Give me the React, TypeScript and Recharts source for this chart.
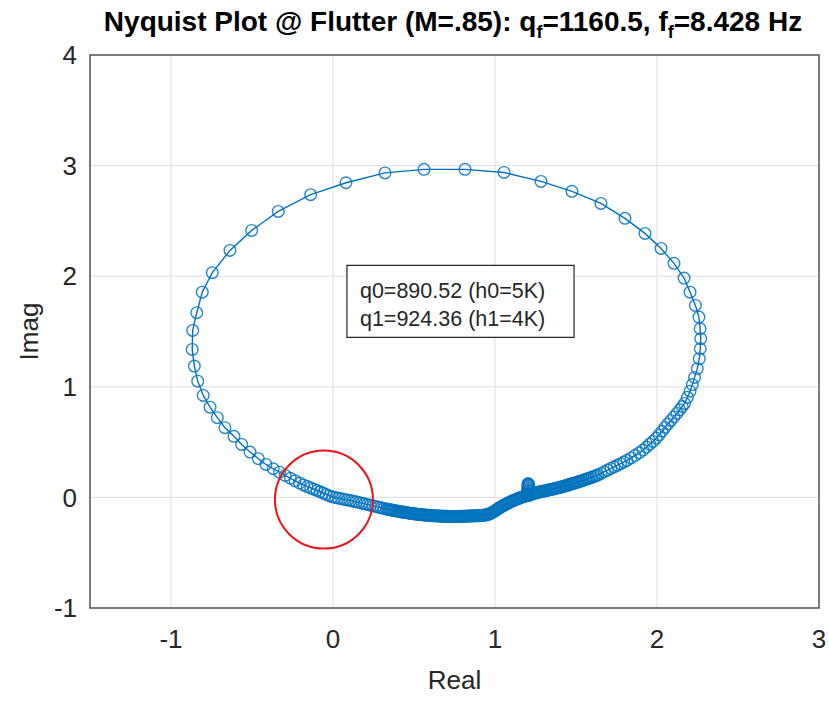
import {
  ScatterChart,
  Scatter,
  XAxis,
  YAxis,
  CartesianGrid,
  ReferenceArea,
  ReferenceDot,
} from "recharts"

const FONT = '"Liberation Sans", Arial, Helvetica, sans-serif'
const BLUE = "#0072BD"
const INK = "#262626"

const spike: [number, number][] = [
  [1.205, 0.125], [1.205, 0.12], [1.205, 0.115], [1.205, 0.11], [1.204, 0.1],
  [1.204, 0.09], [1.203, 0.08], [1.203, 0.07], [1.202, 0.06], [1.202, 0.05],
  [1.201, 0.04], [1.201, 0.03], [1.2, 0.02],
]

const lowerRight: [number, number][] = [
  [1.208, 0.018], [1.216, 0.023], [1.224, 0.028], [1.232, 0.033], [1.24, 0.037],
  [1.248, 0.04], [1.256, 0.043], [1.264, 0.046], [1.272, 0.048], [1.28, 0.051],
  [1.288, 0.053], [1.296, 0.056], [1.304, 0.058], [1.312, 0.061], [1.32, 0.063],
  [1.328, 0.066], [1.336, 0.069], [1.344, 0.071], [1.352, 0.074], [1.36, 0.077],
  [1.368, 0.08], [1.376, 0.083], [1.384, 0.085], [1.392, 0.088], [1.4, 0.091],
  [1.408, 0.094], [1.416, 0.097], [1.424, 0.1], [1.432, 0.104], [1.44, 0.107],
  [1.448, 0.111], [1.456, 0.114], [1.464, 0.118], [1.472, 0.121], [1.48, 0.125],
  [1.488, 0.129], [1.496, 0.132], [1.504, 0.136], [1.512, 0.14], [1.52, 0.144],
  [1.53, 0.148], [1.54, 0.153], [1.55, 0.158], [1.56, 0.163], [1.57, 0.168],
  [1.58, 0.173], [1.59, 0.178], [1.6, 0.184], [1.612, 0.19], [1.624, 0.197],
  [1.636, 0.204], [1.655, 0.217], [1.675, 0.232], [1.695, 0.247], [1.715, 0.262],
  [1.735, 0.276], [1.755, 0.29], [1.775, 0.305], [1.795, 0.32], [1.815, 0.335],
  [1.84, 0.357], [1.865, 0.38], [1.89, 0.403], [1.913, 0.428], [1.935, 0.455],
  [1.955, 0.481], [1.975, 0.506], [1.995, 0.536], [2.013, 0.566], [2.031, 0.598],
  [2.049, 0.633], [2.067, 0.664], [2.086, 0.696], [2.105, 0.728], [2.123, 0.759],
  [2.14, 0.792], [2.156, 0.822], [2.17, 0.85], [2.188, 0.905], [2.204, 0.96],
  [2.218, 1.02], [2.232, 1.085],
]

const upperLoop: [number, number][] = [
  [2.249, 1.164], [2.261, 1.254], [2.267, 1.344], [2.27, 1.435], [2.266, 1.525],
  [2.259, 1.63], [2.237, 1.736], [2.204, 1.856], [2.167, 1.983], [2.105, 2.116],
  [2.025, 2.251], [1.926, 2.387], [1.802, 2.523], [1.654, 2.658], [1.475, 2.767],
  [1.284, 2.857], [1.056, 2.938], [0.815, 2.966], [0.562, 2.966], [0.321, 2.934],
  [0.08, 2.845], [-0.138, 2.737], [-0.338, 2.586], [-0.502, 2.414], [-0.636, 2.233],
  [-0.745, 2.032], [-0.807, 1.856], [-0.841, 1.67], [-0.866, 1.51], [-0.869, 1.338],
  [-0.856, 1.187], [-0.835, 1.051], [-0.801, 0.922], [-0.759, 0.816], [-0.714, 0.721],
  [-0.667, 0.63], [-0.611, 0.552], [-0.564, 0.479], [-0.512, 0.41], [-0.461, 0.35],
  [-0.414, 0.298], [-0.369, 0.259],
]

const lowerLeft: [number, number][] = [
  [-0.33, 0.228], [-0.295, 0.199], [-0.263, 0.173], [-0.234, 0.15], [-0.207, 0.13],
  [-0.182, 0.113], [-0.159, 0.098], [-0.138, 0.086], [-0.118, 0.074], [-0.099, 0.063],
  [-0.08, 0.051], [-0.061, 0.039], [-0.042, 0.027], [-0.023, 0.016], [-0.004, 0.005],
  [0.015, -0.001], [0.034, -0.007], [0.053, -0.012], [0.071, -0.018], [0.089, -0.023],
  [0.107, -0.028], [0.125, -0.034], [0.143, -0.04], [0.161, -0.046], [0.179, -0.052],
  [0.196, -0.058], [0.213, -0.064], [0.23, -0.07], [0.247, -0.076], [0.264, -0.082],
  [0.281, -0.088], [0.298, -0.094], [0.315, -0.1],
]

const bottom: [number, number][] = [
  [0.33, -0.105], [0.338, -0.108], [0.346, -0.11], [0.354, -0.112], [0.362, -0.114],
  [0.37, -0.117], [0.378, -0.119], [0.386, -0.121], [0.394, -0.123], [0.402, -0.125],
  [0.41, -0.127], [0.418, -0.129], [0.426, -0.131], [0.434, -0.133], [0.442, -0.135],
  [0.45, -0.137], [0.458, -0.139], [0.466, -0.141], [0.474, -0.143], [0.482, -0.144],
  [0.49, -0.146], [0.498, -0.148], [0.506, -0.149], [0.514, -0.151], [0.522, -0.152],
  [0.53, -0.154], [0.538, -0.155], [0.546, -0.157], [0.554, -0.158], [0.562, -0.159],
  [0.57, -0.16], [0.578, -0.161], [0.586, -0.162], [0.594, -0.163], [0.602, -0.164],
  [0.61, -0.165], [0.618, -0.166], [0.626, -0.167], [0.634, -0.167], [0.642, -0.168],
  [0.65, -0.168], [0.658, -0.169], [0.666, -0.169], [0.674, -0.17], [0.682, -0.17],
  [0.69, -0.171], [0.698, -0.171], [0.706, -0.171], [0.714, -0.172], [0.722, -0.172],
  [0.73, -0.172], [0.738, -0.172], [0.746, -0.172], [0.754, -0.172], [0.762, -0.172],
  [0.77, -0.172], [0.778, -0.171], [0.786, -0.171], [0.794, -0.171], [0.802, -0.17],
  [0.81, -0.17], [0.818, -0.17], [0.826, -0.169], [0.834, -0.169], [0.842, -0.168],
  [0.85, -0.168], [0.858, -0.168], [0.866, -0.167], [0.874, -0.167], [0.882, -0.166],
  [0.89, -0.166], [0.898, -0.165], [0.906, -0.165], [0.914, -0.164], [0.922, -0.163],
  [0.93, -0.162], [0.938, -0.16], [0.946, -0.158], [0.954, -0.155], [0.962, -0.151],
  [0.97, -0.146], [0.978, -0.14], [0.986, -0.134], [0.994, -0.127], [1.002, -0.119],
  [1.01, -0.111], [1.018, -0.103], [1.026, -0.095], [1.034, -0.088], [1.042, -0.081],
  [1.05, -0.074], [1.058, -0.068], [1.066, -0.062], [1.074, -0.056], [1.082, -0.05],
  [1.09, -0.044], [1.098, -0.038], [1.106, -0.033], [1.114, -0.028], [1.122, -0.023],
  [1.13, -0.018], [1.138, -0.013], [1.146, -0.008], [1.154, -0.004], [1.162, 0.0],
  [1.17, 0.004], [1.178, 0.008], [1.186, 0.011], [1.194, 0.014], [1.2, 0.016],
]

const xTicks = [-1, 0, 1, 2, 3]
const yTicks = [-1, 0, 1, 2, 3, 4]
const noteLines = ["q0=890.52 (h0=5K)", "q1=924.36 (h1=4K)"]
const noteBox = { re1: 0.086, re2: 1.488, im1: 1.447, im2: 2.098 }
const highlight = { re: -0.056, im: -0.02 }

const points = [...spike, ...lowerRight, ...upperLoop, ...lowerLeft, ...bottom].map(
  ([re, im]) => ({ re, im })
)

const Marker = (p: any) => (
  <circle cx={p.cx} cy={p.cy} r={5.8} fill="none" stroke={BLUE} strokeWidth={1.4} strokeOpacity={0.85} />
)

const tickStyle = { fontSize: 26, fill: INK, fontFamily: FONT }

export default function App() {
  return (
    <div style={{ position: "absolute", left: 0, top: 0, width: 829, height: 702, background: "#fff" }}>
      <svg width={829} height={50} style={{ position: "absolute", left: 0, top: 0 }}>
        <text x={453} y={31} textAnchor="middle" fontFamily={FONT} fontWeight="bold" fontSize={28} fill="#000">
          Nyquist Plot @ Flutter (M=.85): q
          <tspan fontSize={18} dy={7}>f</tspan>
          <tspan dy={-7}>=1160.5, f</tspan>
          <tspan fontSize={18} dy={7}>f</tspan>
          <tspan dy={-7}>=8.428 Hz</tspan>
        </text>
      </svg>
      <ScatterChart
        width={829}
        height={702}
        margin={{ top: 55, right: 10, bottom: 9, left: 0 }}
        style={{ position: "absolute", left: 0, top: 0 }}
      >
        <CartesianGrid stroke="#dedede" strokeWidth={1} />
        <XAxis
          type="number"
          dataKey="re"
          domain={[-1.5, 3]}
          ticks={xTicks}
          allowDataOverflow
          axisLine={false}
          tickLine={false}
          tickMargin={16}
          height={85}
          tick={tickStyle}
          label={{
            content: ({ viewBox }: any) => (
              <text
                x={viewBox.x + viewBox.width / 2}
                y={viewBox.y + 81}
                textAnchor="middle"
                fontFamily={FONT}
                fontSize={26}
                fill={INK}
              >
                Real
              </text>
            ),
          }}
        />
        <YAxis
          type="number"
          dataKey="im"
          domain={[-1, 4]}
          ticks={yTicks}
          allowDataOverflow
          axisLine={false}
          tickLine={false}
          tickMargin={7}
          width={90}
          tick={tickStyle}
          label={{
            content: ({ viewBox }: any) => {
              const cx = viewBox.x + 38
              const cy = viewBox.y + viewBox.height / 2
              return (
                <text
                  x={cx}
                  y={cy}
                  transform={`rotate(-90, ${cx}, ${cy})`}
                  textAnchor="middle"
                  fontFamily={FONT}
                  fontSize={26}
                  fill={INK}
                >
                  Imag
                </text>
              )
            },
          }}
        />
        <ReferenceArea
          x1={-1.5}
          x2={3}
          y1={-1}
          y2={4}
          fill="none"
          stroke="#555"
          strokeWidth={1.5}
          fillOpacity={0}
        />
        <Scatter
          data={points}
          line={{ stroke: BLUE, strokeWidth: 1.4 }}
          lineType="joint"
          shape={Marker}
          isAnimationActive={false}
        />
        <ReferenceArea
          x1={noteBox.re1}
          x2={noteBox.re2}
          y1={noteBox.im1}
          y2={noteBox.im2}
          fill="#fff"
          fillOpacity={1}
          stroke={INK}
          strokeWidth={1.2}
          label={{
            content: ({ viewBox }: any) => (
              <g fontFamily={FONT} fontSize={21.5} fill={INK}>
                {noteLines.map((line, i) => (
                  <text key={line} x={viewBox.x + 13} y={viewBox.y + 33 + i * 28}>
                    {line}
                  </text>
                ))}
              </g>
            ),
          }}
        />
        <ReferenceDot
          x={highlight.re}
          y={highlight.im}
          r={49}
          fill="none"
          stroke="#e8141b"
          strokeWidth={2}
        />
      </ScatterChart>
    </div>
  )
}
